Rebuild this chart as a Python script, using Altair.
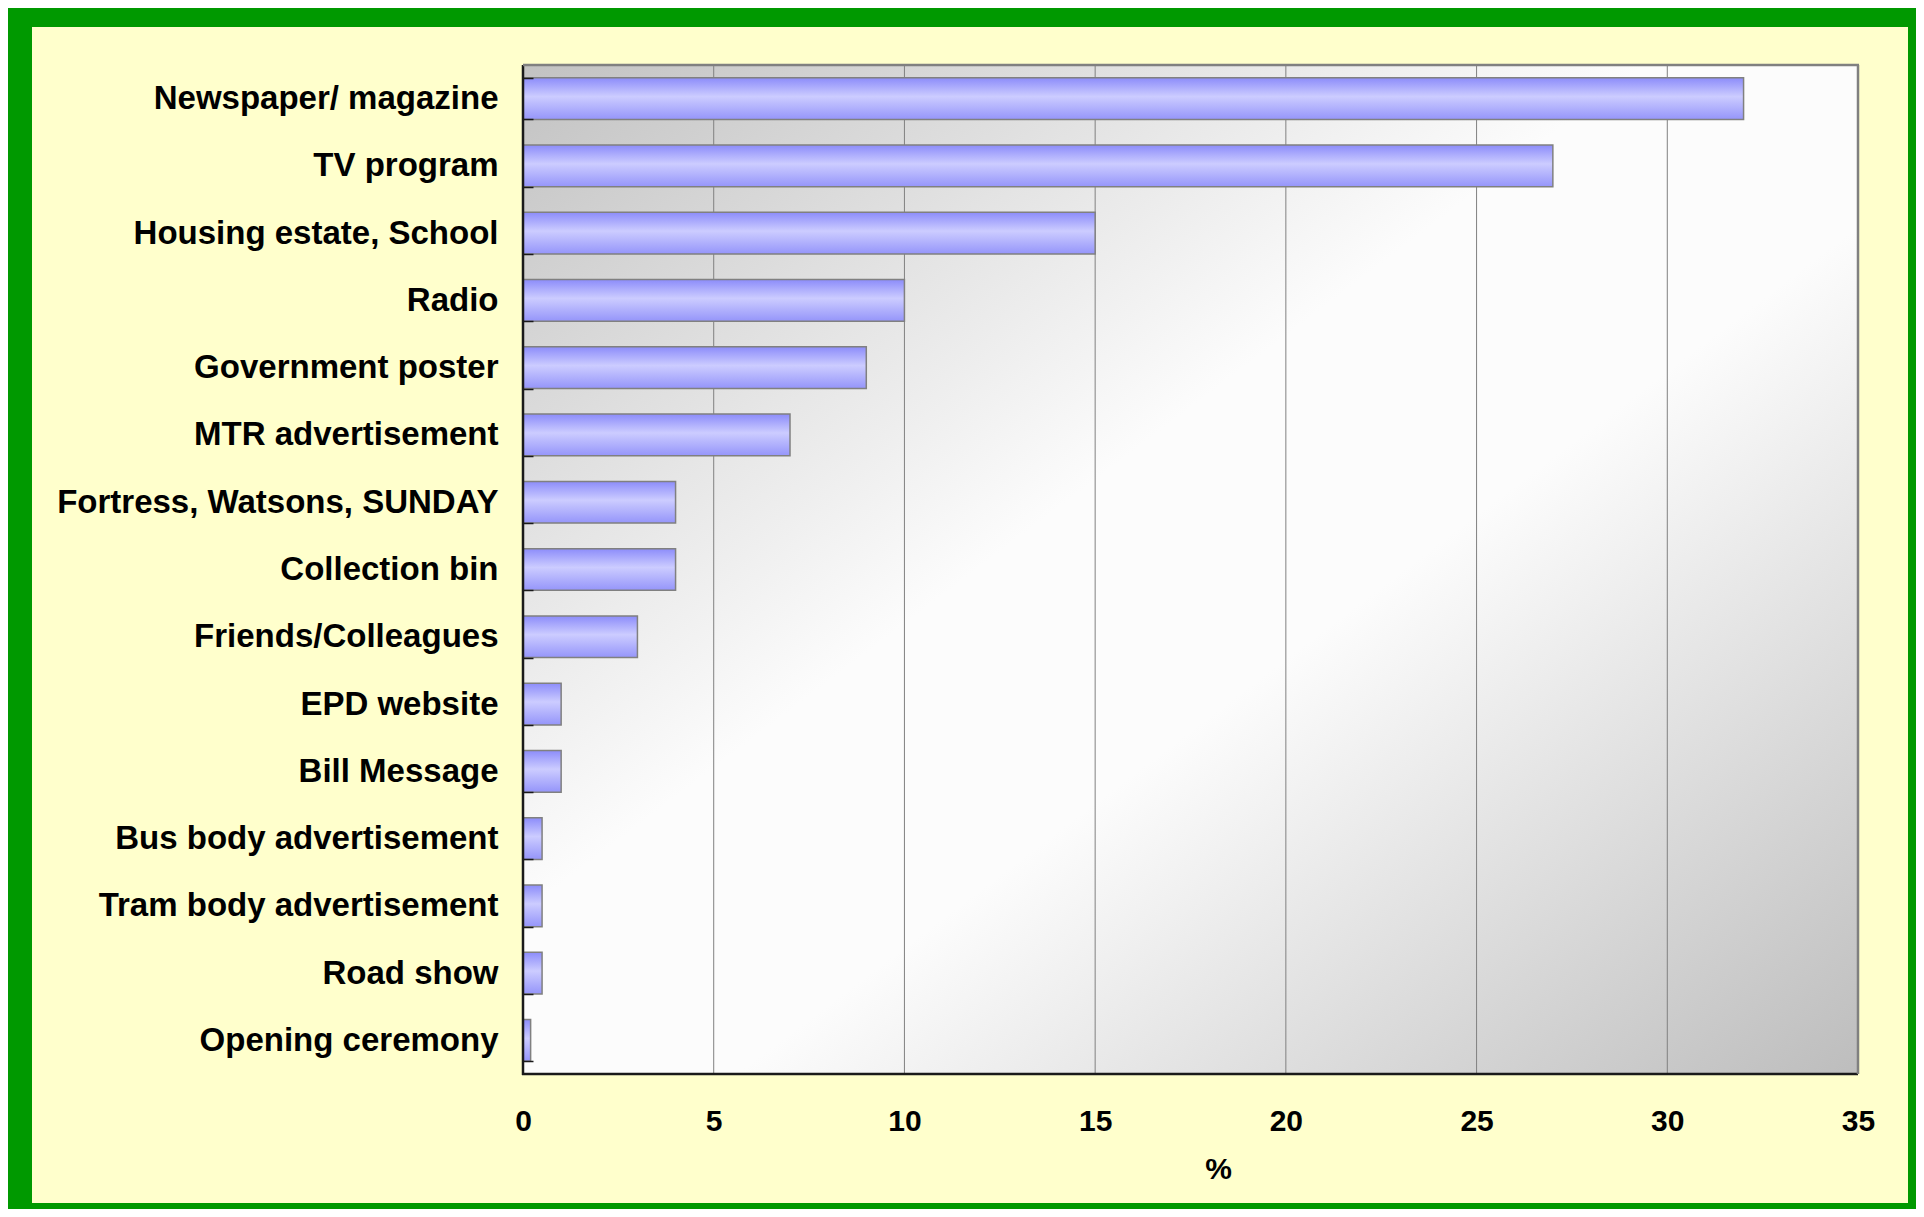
import altair as alt
import pandas as pd

categories = [
    "Newspaper/ magazine",
    "TV program",
    "Housing estate, School",
    "Radio",
    "Government poster",
    "MTR advertisement",
    "Fortress, Watsons, SUNDAY",
    "Collection bin",
    "Friends/Colleagues",
    "EPD website",
    "Bill Message",
    "Bus body advertisement",
    "Tram body advertisement",
    "Road show",
    "Opening ceremony",
]
values = [32, 27, 15, 10, 9, 7, 4, 4, 3, 1, 1, 0.5, 0.5, 0.5, 0.2]
x_ticks = [0, 5, 10, 15, 20, 25, 30, 35]
grid_values = [5, 10, 15, 20, 25, 30]

W, H = 1335, 1009

df = pd.DataFrame({"source": categories, "pct": values})
grid_df = pd.DataFrame({"pct": grid_values})
one = pd.DataFrame({"k": [0]})

xscale = alt.Scale(domain=[0, 35], nice=False, zero=True)
xaxis = alt.Axis(
    values=x_ticks, title="%", grid=False, ticks=False, tickSize=0, domain=False,
    labelFontSize=30, labelFontWeight="bold", labelColor="black", labelPadding=32,
    labelFlush=False, labelOverlap=False,
    titleFontSize=30, titleFontWeight="bold", titleColor="black",
    titleX=695, titleY=95, titleAlign="center", titleBaseline="middle",
    zindex=1,
)

panel = alt.Chart(one).mark_rect(color="#ffffcc").encode(
    x=alt.value(-491), x2=alt.value(1385), y=alt.value(-38), y2=alt.value(1138)
)

bg_grad = alt.LinearGradient(
    gradient="linear",
    stops=[
        alt.GradientStop(color="#c2c2c2", offset=0),
        alt.GradientStop(color="#fcfcfc", offset=0.42),
        alt.GradientStop(color="#fcfcfc", offset=0.58),
        alt.GradientStop(color="#bdbdbd", offset=1),
    ],
    x1=0, y1=0, x2=1, y2=1,
)
plotbg = alt.Chart(one).mark_rect(color=bg_grad).encode(
    x=alt.value(0), x2=alt.value(W), y=alt.value(0), y2=alt.value(H)
)

grid = alt.Chart(grid_df).mark_rule(color="#808080", strokeWidth=1).encode(
    x=alt.X("pct:Q", scale=xscale, axis=xaxis), y=alt.value(0), y2=alt.value(H)
)

bar_grad = alt.LinearGradient(
    gradient="linear",
    stops=[
        alt.GradientStop(color="#8c8cfa", offset=0),
        alt.GradientStop(color="#ccccff", offset=0.45),
        alt.GradientStop(color="#9595fa", offset=1),
    ],
    x1=0, y1=0, x2=0, y2=1,
)
bars = alt.Chart(df).mark_bar(color=bar_grad, stroke="#808080", strokeWidth=1.5).encode(
    x=alt.X("pct:Q", scale=xscale, axis=xaxis),
    y=alt.Y(
        "source:N",
        sort=categories,
        scale=alt.Scale(paddingInner=0.38, paddingOuter=0.19),
        axis=alt.Axis(
            title=None, offset=-10, tickSize=10, tickBand="extent", domain=False, grid=False,
            tickColor="#1a1a1a", tickWidth=1.5,
            labelFontSize=33, labelFontWeight="bold", labelColor="black", labelPadding=25,
            labelLimit=700, labelOverlap=False, zindex=1,
        ),
    ),
)

left = alt.Chart(one).mark_rule(color="#1a1a1a", strokeWidth=2.5).encode(
    x=alt.value(0), y=alt.value(0), y2=alt.value(H + 1)
)
bottom = alt.Chart(one).mark_rule(color="#1a1a1a", strokeWidth=2.5).encode(
    x=alt.value(-1), x2=alt.value(W), y=alt.value(H)
)
top = alt.Chart(one).mark_rule(color="#808080", strokeWidth=2.5).encode(
    x=alt.value(0), x2=alt.value(W + 1), y=alt.value(0)
)
right = alt.Chart(one).mark_rule(color="#808080", strokeWidth=2.5).encode(
    x=alt.value(W), y=alt.value(0), y2=alt.value(H)
)

chart = (
    alt.layer(panel, plotbg, grid, bars, left, bottom, top, right)
    .properties(
        width=W,
        height=H,
        padding={"left": 515, "top": 57, "right": 58, "bottom": 135},
        autosize=alt.AutoSizeParams(type="none"),
        background="#009900",
    )
    .configure_view(strokeWidth=0)
    .configure(font="Liberation Sans")
)

chart.save("out.html", embed_options={"renderer": "svg", "actions": False})
